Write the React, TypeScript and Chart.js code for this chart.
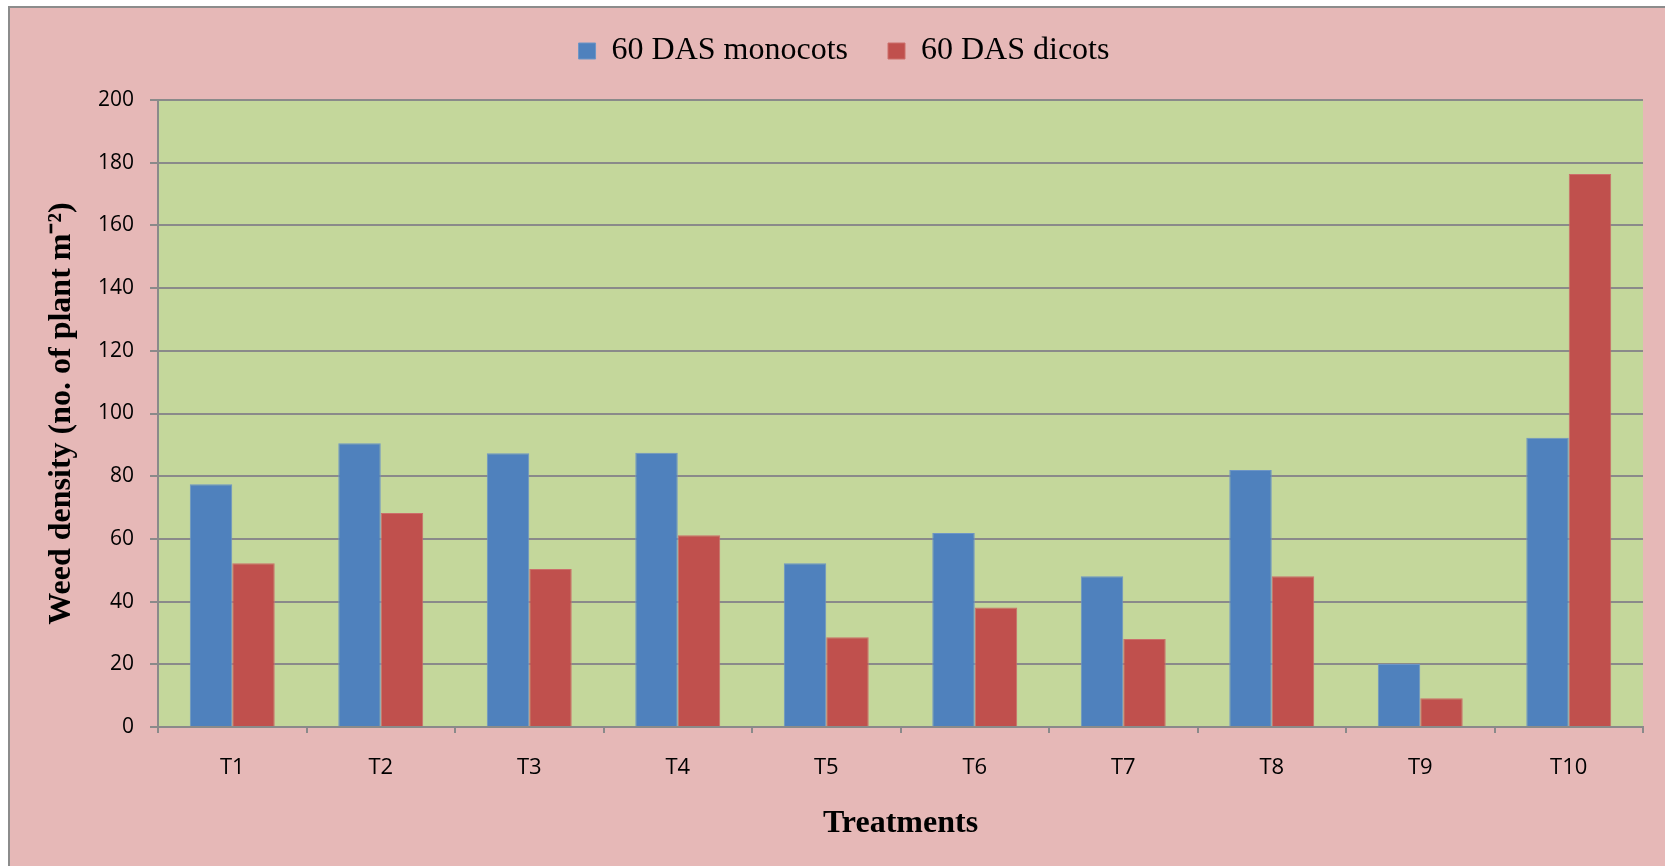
import React, { useEffect, useRef } from 'react';
import { Chart, registerables } from 'chart.js';

Chart.register(...registerables);

const categories = ['T1', 'T2', 'T3', 'T4', 'T5', 'T6', 'T7', 'T8', 'T9', 'T10'];
const seriesNames = ['60 DAS monocots', '60 DAS dicots'];
const monocots = [77.4, 90.5, 87.3, 87.5, 52.2, 61.9, 48.1, 82.0, 20.1, 92.3];
const dicots = [52.2, 68.3, 50.4, 61.2, 28.6, 38.1, 28.1, 48.1, 9.2, 176.4];
const yMin = 0;
const yMax = 200;
const yStep = 20;
const yTitle = 'Weed density (no. of plant m\u207B\u00B2)';
const xTitle = 'Treatments';

const W = 1665;
const H = 866;
const GRID = '#8a8a8a';
const SERIF = "'Liberation Serif', 'Times New Roman', serif";
const SANS = "'Open Sans', 'Noto Sans', sans-serif";

const LEGEND_FONT = 32;
const LEGEND_PAD = 40;
const LEGEND_CENTER_Y = 51;
const LEGEND_CENTER_X = 844;
const PLOT_TOP = 100;

const bgPlugin = {
  id: 'bgPlugin',
  beforeDraw(chart: any) {
    const { ctx, width, height, chartArea } = chart;
    ctx.save();
    ctx.fillStyle = '#ffffff';
    ctx.fillRect(0, 0, width, height);
    ctx.fillStyle = '#E6B8B7';
    ctx.fillRect(9, 7, width - 9, height - 7);
    ctx.strokeStyle = '#8c8c8c';
    ctx.lineWidth = 2;
    ctx.beginPath();
    ctx.moveTo(9, height);
    ctx.lineTo(9, 7);
    ctx.lineTo(width, 7);
    ctx.stroke();
    ctx.fillStyle = '#C4D79B';
    ctx.fillRect(chartArea.left, chartArea.top, chartArea.right - chartArea.left, chartArea.bottom - chartArea.top);
    ctx.restore();
  },
};

const legendShift = {
  id: 'legendShift',
  afterLayout(chart: any) {
    const lg = chart.legend;
    if (!lg) return;
    const d = LEGEND_CENTER_X - (lg.left + lg.right) / 2;
    lg.left += d;
    lg.right += d;
    const h = lg.bottom - lg.top;
    const newTop = LEGEND_CENTER_Y - LEGEND_PAD - LEGEND_FONT / 2;
    lg.top = newTop;
    lg.bottom = newTop + h;
  },
};

// legend height in Chart.js = itemHeight + padding + 10
const layoutTop = PLOT_TOP - (LEGEND_FONT + LEGEND_PAD + 10);

export default function App() {
  const ref = useRef<HTMLCanvasElement | null>(null);

  useEffect(() => {
    if (!ref.current) return;
    const chart = new Chart(ref.current, {
      type: 'bar',
      data: {
        labels: categories,
        datasets: [
          {
            label: seriesNames[0],
            data: monocots,
            backgroundColor: '#4F81BD',
            borderColor: '#6d95c6',
            borderWidth: 1,
          },
          {
            label: seriesNames[1],
            data: dicots,
            backgroundColor: '#C0504D',
            borderColor: '#cc6e6b',
            borderWidth: 1,
          },
        ],
      },
      options: {
        responsive: false,
        animation: false,
        devicePixelRatio: 1,
        layout: { padding: { top: layoutTop, right: 22, bottom: 0, left: 0 } },
        datasets: {
          bar: { categoryPercentage: 0.572, barPercentage: 1 },
        },
        plugins: {
          legend: {
            display: true,
            position: 'top',
            align: 'center',
            labels: {
              boxWidth: 17,
              boxHeight: 16,
              padding: LEGEND_PAD,
              color: '#000',
              font: { family: SERIF, size: LEGEND_FONT },
            },
          },
          tooltip: { enabled: false },
          title: { display: false },
        },
        scales: {
          x: {
            offset: true,
            grid: {
              offset: true,
              drawOnChartArea: false,
              drawTicks: true,
              tickLength: 6,
              color: GRID,
              lineWidth: 2,
            },
            border: { display: true, color: GRID, width: 2 },
            ticks: {
              color: '#000',
              padding: 22,
              font: { family: SANS, size: 22 },
            },
            title: {
              display: true,
              text: xTitle,
              color: '#000',
              font: { family: SERIF, size: 32, weight: 'bold' },
              padding: { top: 0, bottom: 23 },
            },
            afterFit(scale: any) {
              scale.height = 139;
            },
          },
          y: {
            min: yMin,
            max: yMax,
            ticks: {
              stepSize: yStep,
              color: '#000',
              padding: 16,
              font: { family: SANS, size: 21 },
            },
            grid: {
              color: GRID,
              lineWidth: 2,
              tickLength: 8,
              drawTicks: true,
            },
            border: { display: true, color: GRID, width: 2 },
            title: {
              display: true,
              text: yTitle,
              color: '#000',
              font: { family: SERIF, size: 32, weight: 'bold' },
              padding: { top: 43, bottom: 0 },
            },
            afterFit(scale: any) {
              scale.width = 158;
            },
          },
        },
      },
      plugins: [bgPlugin, legendShift],
    } as any);
    return () => chart.destroy();
  }, []);

  return (
    <div style={{ position: 'fixed', left: 0, top: 0, width: W, height: H, background: '#fff' }}>
      <canvas ref={ref} width={W} height={H} style={{ display: 'block', width: W, height: H }} />
    </div>
  );
}
